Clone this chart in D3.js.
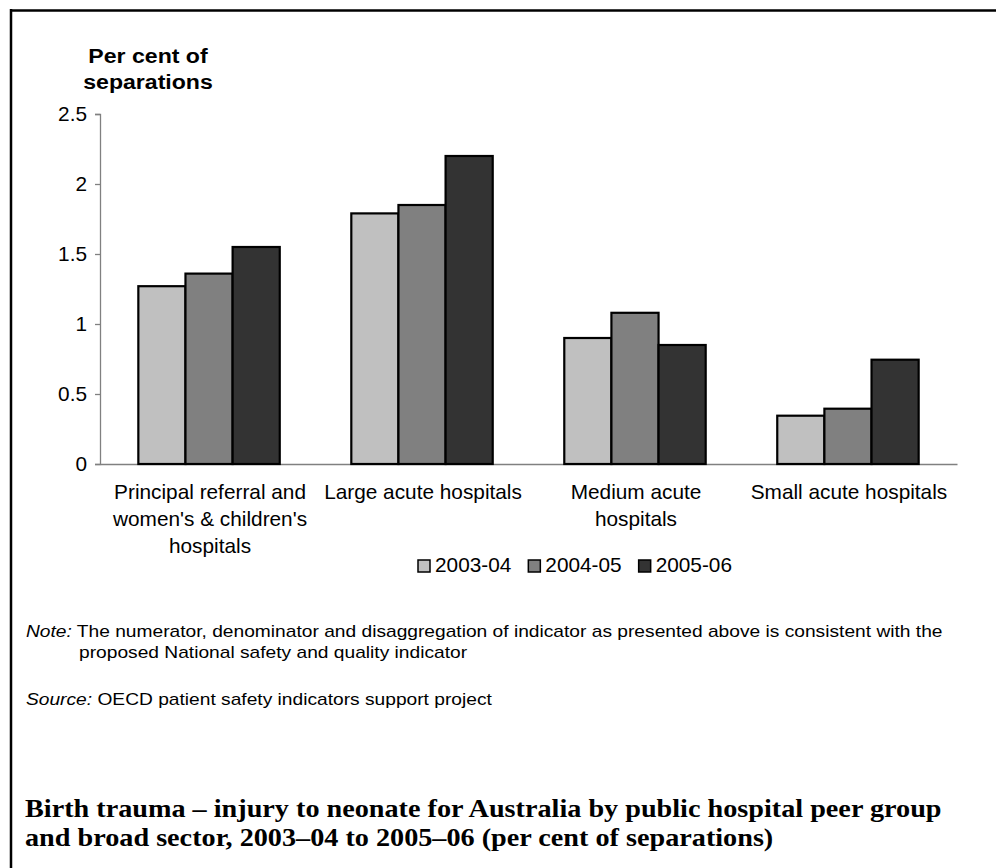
<!DOCTYPE html>
<html><head><meta charset="utf-8">
<script src="https://cdn.jsdelivr.net/npm/d3@7"></script>
<style>body{margin:0;background:#fff} svg{display:block}</style>
</head><body><svg id="c" width="996" height="868"></svg>
<script>
const categories = ["Principal referral and\nwomen's & children's\nhospitals", "Large acute hospitals", "Medium acute\nhospitals", "Small acute hospitals"];
const seriesNames = ["2003-04", "2004-05", "2005-06"];
const v2003 = [1.27, 1.79, 0.90, 0.345];
const v2004 = [1.36, 1.85, 1.08, 0.395];
const v2005 = [1.55, 2.20, 0.85, 0.745];
const yTicks = [0, 0.5, 1, 1.5, 2, 2.5];
const seriesColors = ["#c0c0c0", "#808080", "#333333"];
const yTitle = ["Per cent of", "separations"];
const noteLabel = "Note:";
const noteLines = [" The numerator, denominator and disaggregation of indicator as presented above is consistent with the", "proposed National safety and quality indicator"];
const sourceLabel = "Source:";
const sourceText = " OECD patient safety indicators support project";
const titleLines = ["Birth trauma \u2013 injury to neonate for Australia by public hospital peer group", "and broad sector, 2003\u201304 to 2005\u201306 (per cent of separations)"];

const series = [v2003, v2004, v2005];
const svg = d3.select("#c");
const SANS = "Arial, 'Liberation Sans', sans-serif";
const FS = 20.8;

// frame
svg.append("line").attr("x1", 10).attr("x2", 996).attr("y1", 10.5).attr("y2", 10.5).attr("stroke", "#000").attr("stroke-width", 2.5);
svg.append("line").attr("x1", 11).attr("x2", 11).attr("y1", 9).attr("y2", 868).attr("stroke", "#000").attr("stroke-width", 2.5);

const x0 = d3.scaleBand().domain(categories).range([100, 957]).paddingInner(0.336).paddingOuter(0.18);
const x1 = d3.scaleBand().domain(seriesNames).range([0, x0.bandwidth()]);
const y = d3.scaleLinear().domain([0, 2.5]).range([464, 114]);

// y axis
const yAxis = svg.append("g").attr("transform", "translate(100,0)")
  .call(d3.axisLeft(y).tickValues(yTicks).tickFormat(d => String(d)).tickSize(5).tickPadding(8));
yAxis.selectAll("path,line").attr("stroke", "#808080").attr("stroke-width", 1.3);
yAxis.selectAll("text").attr("font-family", SANS).attr("font-size", FS).attr("fill", "#000");

// x axis baseline
const xAxis = svg.append("g").attr("transform", "translate(0,464)")
  .call(d3.axisBottom(x0).tickSize(0).tickFormat(""));
xAxis.select("path").attr("stroke", "#808080").attr("stroke-width", 1.3);

// bars
const groups = svg.append("g").selectAll("g").data(categories).join("g")
  .attr("transform", d => `translate(${x0(d)},0)`);
groups.selectAll("rect").data((c, i) => series.map((s, j) => ({ name: seriesNames[j], value: s[i], j })))
  .join("rect")
  .attr("x", d => x1(d.name))
  .attr("width", x1.bandwidth())
  .attr("y", d => y(d.value))
  .attr("height", d => y(0) - y(d.value))
  .attr("fill", d => seriesColors[d.j])
  .attr("stroke", "#000").attr("stroke-width", 2.2);

// category labels
categories.forEach(c => {
  const t = svg.append("text").attr("font-family", SANS).attr("font-size", FS).attr("text-anchor", "middle");
  c.split("\n").forEach((ln, k) => {
    t.append("tspan").attr("x", x0(c) + x0.bandwidth() / 2 + 1).attr("y", 499 + k * 27).text(ln);
  });
});

// y title
svg.append("g").selectAll("text").data(yTitle).join("text")
  .attr("transform", (d, i) => `translate(148,${63 + i * 26}) scale(1.1,1)`)
  .attr("text-anchor", "middle").attr("font-family", SANS).attr("font-weight", "bold").attr("font-size", 21)
  .text(d => d);

// legend
const leg = svg.append("g");
let lx = 418;
seriesNames.forEach((n, j) => {
  leg.append("rect").attr("x", lx).attr("y", 560).attr("width", 12).attr("height", 12)
    .attr("fill", seriesColors[j]).attr("stroke", "#000").attr("stroke-width", 1.5);
  const t = leg.append("text").attr("x", lx + 17).attr("y", 572).attr("font-family", SANS).attr("font-size", FS).text(n);
  lx += 17 + t.node().getComputedTextLength() + 17;
});

// note + source (fit to measured width)
const NFS = 16;
const note = svg.append("text").attr("font-family", SANS).attr("font-size", NFS);
note.append("tspan").attr("font-style", "italic").text(noteLabel);
note.append("tspan").text(noteLines[0]);
const nsx = 917 / note.node().getComputedTextLength();
note.attr("transform", `translate(26,637) scale(${nsx},1)`);
svg.append("text").attr("font-family", SANS).attr("font-size", NFS)
  .attr("transform", `translate(79,658) scale(${nsx},1)`).text(noteLines[1]);
const src = svg.append("text").attr("font-family", SANS).attr("font-size", NFS)
  .attr("transform", `translate(26,705) scale(${nsx},1)`);
src.append("tspan").attr("font-style", "italic").text(sourceLabel);
src.append("tspan").text(sourceText);

// title
const SERIF = "'Palatino Linotype', 'Book Antiqua', Palatino, 'Liberation Serif', serif";
const tl = svg.append("g").selectAll("text").data(titleLines).join("text")
  .attr("font-family", SERIF).attr("font-weight", "bold").attr("font-size", 25)
  .text(d => d);
const sx = 917 / tl.nodes()[0].getComputedTextLength();
tl.attr("transform", (d, i) => `translate(25,${817 + i * 29}) scale(${sx},1)`);
</script></body></html>
